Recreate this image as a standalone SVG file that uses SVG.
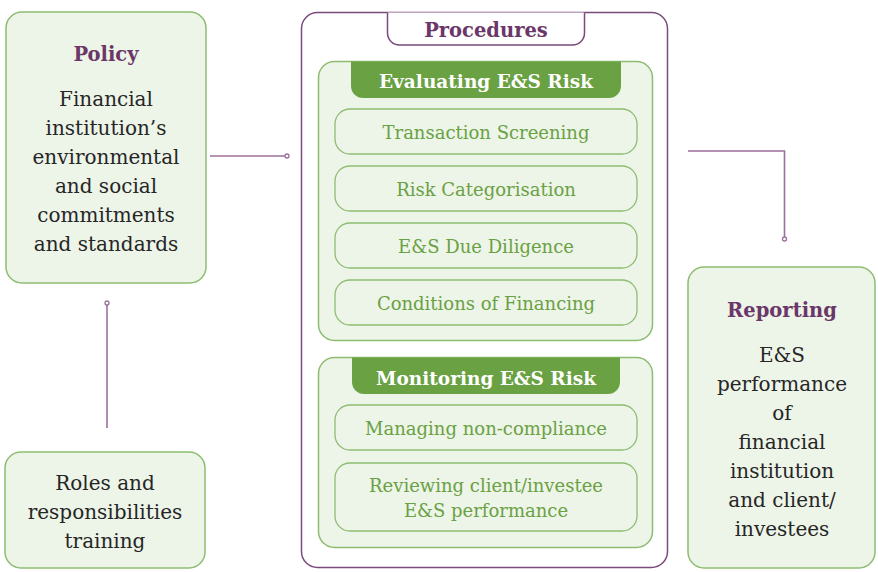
<svg xmlns="http://www.w3.org/2000/svg" width="878" height="572" viewBox="0 0 878 572">
<style>
.box{fill:#edf4e8;stroke:#8dbd70;stroke-width:1.5}
.item{fill:#edf4e8;stroke:#8dbd70;stroke-width:1.3}
.hdr{fill:#6aa143}
.t{font-family:"DejaVu Serif","Liberation Serif",serif;text-anchor:middle}
.body{font-size:20px;fill:#262626}
.title{font-size:19.5px;font-weight:bold;fill:#6b3768}
.hdrt{font-size:18.5px;font-weight:bold;fill:#ffffff}
.it{font-size:18px;fill:#6aa143}
.conn{fill:none;stroke:#9b6f9d;stroke-width:1.6}
.dot{fill:#fff;stroke:#9b6f9d;stroke-width:1.3}
</style>
<rect width="878" height="572" fill="#fff"/>
<g id="connectors">
<line class="conn" x1="210" y1="156" x2="285" y2="156"/>
<circle class="dot" cx="287" cy="156" r="2"/>
<polyline class="conn" points="688,151 784.5,151 784.5,237"/>
<circle class="dot" cx="784.5" cy="239" r="2"/>
<line class="conn" x1="107" y1="305" x2="107" y2="428"/>
<circle class="dot" cx="107" cy="303" r="2"/>
</g>
<g id="policy">
<rect class="box" x="6" y="12" width="200" height="271" rx="16"/>
<text class="t title" x="106" y="61">Policy</text>
<text class="t body" x="106" y="106">Financial</text>
<text class="t body" x="106" y="135">institution’s</text>
<text class="t body" x="106" y="164">environmental</text>
<text class="t body" x="106" y="193">and social</text>
<text class="t body" x="106" y="222">commitments</text>
<text class="t body" x="106" y="251">and standards</text>
</g>
<g id="roles">
<rect class="box" x="5" y="452" width="200" height="116" rx="16"/>
<text class="t body" x="105" y="490">Roles and</text>
<text class="t body" x="105" y="519">responsibilities</text>
<text class="t body" x="105" y="548">training</text>
</g>
<g id="procedures">
<rect x="301.5" y="12.5" width="366" height="555" rx="16" fill="#fff" stroke="#7a4a7c" stroke-width="1.5"/>
<path d="M387.5,12.5 V33 a12,12 0 0 0 12,12 H572.5 a12,12 0 0 0 12,-12 V12.5" fill="#fff" stroke="#7a4a7c" stroke-width="1.5"/>
<text class="t title" x="486" y="37">Procedures</text>
</g>
<g id="evaluating">
<rect class="box" x="318.5" y="61.5" width="334" height="279" rx="16"/>
<path class="hdr" d="M351,61.5 H621 V86 a12,12 0 0 1 -12,12 H363 a12,12 0 0 1 -12,-12 Z"/>
<text class="t hdrt" x="486" y="88">Evaluating E&amp;S Risk</text>
</g>
<g id="transaction-screening">
<rect class="item" x="335" y="109" width="302" height="45" rx="15"/>
<text class="t it" x="486" y="139">Transaction Screening</text>
</g>
<g id="risk-categorisation">
<rect class="item" x="335" y="166" width="302" height="45" rx="15"/>
<text class="t it" x="486" y="196">Risk Categorisation</text>
</g>
<g id="due-diligence">
<rect class="item" x="335" y="223" width="302" height="45" rx="15"/>
<text class="t it" x="486" y="253">E&amp;S Due Diligence</text>
</g>
<g id="conditions">
<rect class="item" x="335" y="280" width="302" height="45" rx="15"/>
<text class="t it" x="486" y="310">Conditions of Financing</text>
</g>
<g id="monitoring">
<rect class="box" x="318.5" y="357.5" width="334" height="190" rx="16"/>
<path class="hdr" d="M352,357.5 H620 V382 a12,12 0 0 1 -12,12 H364 a12,12 0 0 1 -12,-12 Z"/>
<text class="t hdrt" x="486" y="385">Monitoring E&amp;S Risk</text>
</g>
<g id="managing">
<rect class="item" x="335" y="405" width="302" height="45" rx="15"/>
<text class="t it" x="486" y="435">Managing non-compliance</text>
</g>
<g id="reviewing">
<rect class="item" x="335" y="463" width="302" height="68" rx="15"/>
<text class="t it" x="486" y="492">Reviewing client/investee</text>
<text class="t it" x="486" y="517">E&amp;S performance</text>
</g>
<g id="reporting">
<rect class="box" x="688" y="267" width="187" height="301" rx="16"/>
<text class="t title" x="782" y="317">Reporting</text>
<text class="t body" x="782" y="362">E&amp;S</text>
<text class="t body" x="782" y="391">performance</text>
<text class="t body" x="782" y="420">of</text>
<text class="t body" x="782" y="449">financial</text>
<text class="t body" x="782" y="478">institution</text>
<text class="t body" x="782" y="507">and client/</text>
<text class="t body" x="782" y="536">investees</text>
</g>
</svg>
